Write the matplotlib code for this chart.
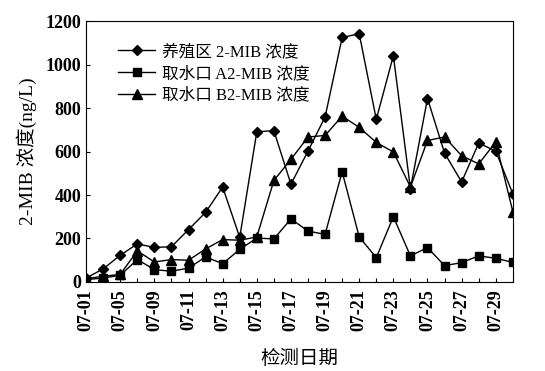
import numpy as np
import matplotlib.pyplot as plt

plt.rcParams['font.family'] = ['Liberation Serif', 'Noto Sans CJK SC']
plt.rcParams['font.weight'] = 'bold'

# sampling dates (every other day at the start, then daily)
dates = ['07-01', '07-03', '07-05', '07-07', '07-09', '07-10', '07-11', '07-12',
         '07-13', '07-14', '07-15', '07-16', '07-17', '07-18', '07-19', '07-20',
         '07-21', '07-22', '07-23', '07-24', '07-25', '07-26', '07-27', '07-28',
         '07-29', '07-30']

farm = [18, 60, 123, 175, 159, 162, 241, 320, 437, 205, 691, 696, 450,
        602, 759, 1125, 1142, 748, 1041, 429, 844, 593, 460, 639, 602, 405]
intake_a = [11, 18, 31, 103, 57, 49, 64, 115, 84, 150, 202, 198, 290,
            234, 219, 507, 207, 112, 300, 120, 158, 75, 89, 120, 109, 90]
intake_b = [15, 26, 35, 143, 92, 103, 100, 152, 195, 192, 207, 467, 564,
            667, 674, 763, 711, 642, 598, 437, 651, 667, 581, 543, 644, 323]

labels = ['养殖区 2-MIB 浓度', '取水口 A2-MIB 浓度', '取水口 B2-MIB 浓度']

fig = plt.figure(figsize=(5.45, 3.71), dpi=100)
ax = fig.add_axes([0.158, 0.240, 0.783, 0.703])

x = np.arange(len(dates))
ax.plot(x, farm, color='black', lw=1.0, marker='D', ms=5.5, label=labels[0])
ax.plot(x, intake_a, color='black', lw=1.0, marker='s', ms=6, label=labels[1])
ax.plot(x, intake_b, color='black', lw=1.0, marker='^', ms=7, label=labels[2])

ax.set_xlim(0, len(dates) - 1)
ax.set_ylim(0, 1200)
ax.set_yticks(np.arange(0, 1201, 200))
ax.set_xticks(x)
ax.set_xticklabels([d if i % 2 == 0 else '' for i, d in enumerate(dates)],
                   rotation=90, fontsize=13)
ax.tick_params(axis='y', labelsize=13, direction='in', length=3)
ax.tick_params(axis='x', direction='in', length=3, pad=5)
for sp in ax.spines.values():
    sp.set_linewidth(0.8)

ax.set_ylabel('2-MIB 浓度(ng/L)', fontsize=14, labelpad=6)
ax.set_xlabel('检测日期', fontsize=14, labelpad=14)

ax.legend(loc='upper left', bbox_to_anchor=(0.04, 0.97), frameon=False,
          handlelength=2.2, handletextpad=0.4, labelspacing=0.35,
          prop={'size': 12, 'weight': 'normal'})

fig.savefig('out.png', dpi=100)
